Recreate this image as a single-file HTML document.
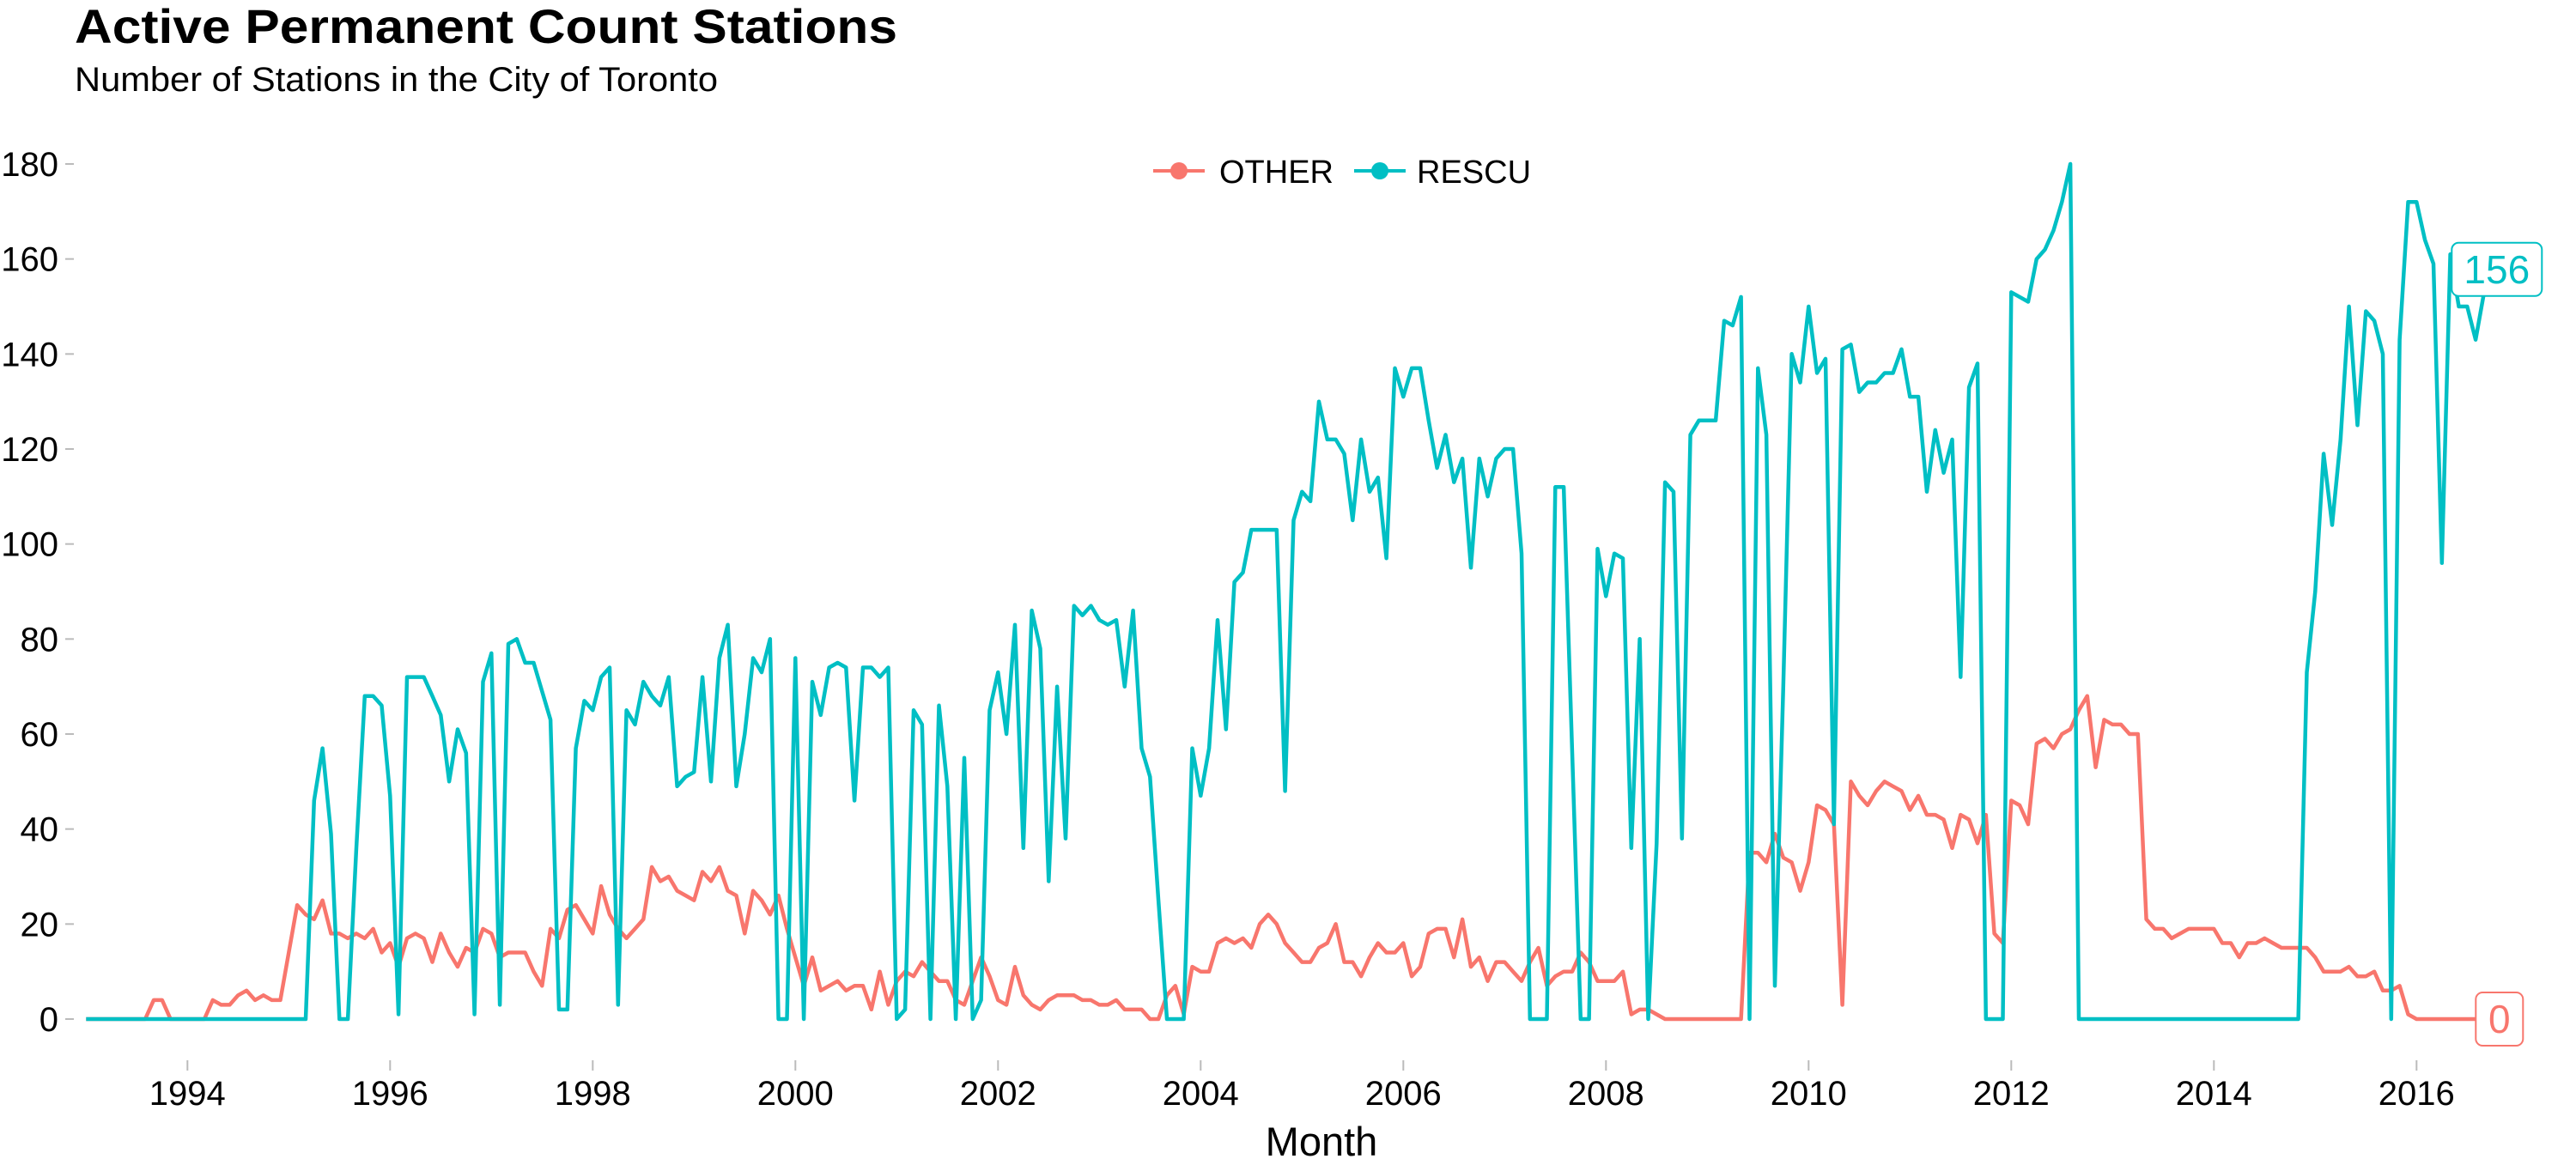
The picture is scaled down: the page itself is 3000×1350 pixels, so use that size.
<!DOCTYPE html>
<html><head><meta charset="utf-8">
<style>
html,body{margin:0;padding:0;background:#fff;}
svg{display:block;font-family:"Liberation Sans",Arial,sans-serif;}
</style></head>
<body>
<svg id="chart" width="3000" height="1350" viewBox="0 0 3000 1350" xmlns="http://www.w3.org/2000/svg">
  <text x="87" y="50" font-size="56" font-weight="bold" fill="#000" textLength="958" lengthAdjust="spacingAndGlyphs">Active Permanent Count Stations</text>
  <text x="87" y="106" font-size="40" fill="#000" textLength="749" lengthAdjust="spacingAndGlyphs">Number of Stations in the City of Toronto</text>
  <g id="legend">
    <g>
      <line x1="1343" y1="199" x2="1403" y2="199" stroke="#F8766D" stroke-width="4"/>
      <circle cx="1373" cy="199" r="10" fill="#F8766D"/>
      <text x="1420" y="213" font-size="38" fill="#000">OTHER</text>
    </g>
    <g>
      <line x1="1577" y1="199" x2="1637" y2="199" stroke="#00BFC4" stroke-width="4"/>
      <circle cx="1607" cy="199" r="10" fill="#00BFC4"/>
      <text x="1650" y="213" font-size="38" fill="#000">RESCU</text>
    </g>
  </g>
  <g id="yaxis"></g>
  <g id="xaxis"></g>
  <g id="series"></g>
  <g id="labels"></g>
  <text x="1539" y="1346" font-size="47" text-anchor="middle" fill="#000">Month</text>
</svg>
<script>
const startYear = 1993;
const yTicks = [0,20,40,60,80,100,120,140,160,180];
const xTickYears = [1994,1996,1998,2000,2002,2004,2006,2008,2010,2012,2014,2016];
const rescuValues = [
0,0,0,0,0,0,0,0,0,0,0,0,0,0,0,0,0,0,0,0,0,0,0,0,0,0,0,
46,57,39,0,0,36,68,68,66,47,1,72,72,72,68,64,50,61,56,1,71,77,
3,79,80,75,75,69,63,2,2,57,67,65,72,74,3,65,62,71,68,66,72,49,51,52,72,50,76,83,49,60,76,73,80,0,0,76,0,71,64,74,75,74,46,74,74,72,74,0,2,
65,62,0,66,49,0,55,0,4,65,73,60,83,36,86,78,29,70,38,87,85,87,84,83,84,70,86,57,51,25,0,0,0,57,47,57,84,61,92,94,103,103,103,103,48,105,111,109,130,
122,122,119,105,122,111,114,97,137,131,137,137,126,116,123,113,118,95,118,110,118,120,120,98,0,0,0,112,112,56,0,0,99,89,98,97,36,80,0,37,113,111,38,123,126,126,126,147,146,152,
0,137,123,7,70,140,134,150,136,139,41,141,142,132,134,134,136,136,141,131,131,111,124,115,122,72,133,138,0,0,0,153,152,151,160,162,166,172,180,0,
0,0,0,0,0,0,0,0,0,0,0,0,0,0,0,0,0,0,0,0,0,0,0,0,0,
0,73,90,119,104,122,150,125,149,147,140,0,143,172,172,164,159,96,161,150,150,143,153,156];
const otherValues = [
0,0,0,0,0,0,0,0,4,4,0,0,0,0,0,4,3,3,5,6,4,5,4,4,14,24,22,21,25,18,18,17,18,17,19,14,16,11,17,18,17,12,18,14,11,15,14,
19,18,13,14,14,14,10,7,19,17,23,24,21,18,28,22,19,17,19,21,32,29,30,27,26,25,31,29,32,27,26,18,27,25,22,26,19,13,7,13,6,7,8,6,7,7,2,10,3,8,10,
9,12,10,8,8,4,3,8,13,9,4,3,11,5,3,2,4,5,5,5,4,4,3,3,4,2,2,2,0,0,5,7,1,11,10,10,16,17,16,17,15,20,22,20,16,14,12,12,15,
16,20,12,12,9,13,16,14,14,16,9,11,18,19,19,13,21,11,13,8,12,12,10,8,12,15,7,9,10,10,14,12,8,8,8,10,1,2,2,1,0,0,0,0,0,0,0,0,0,0,
35,35,33,39,34,33,27,33,45,44,41,3,50,47,45,48,50,49,48,44,47,43,43,42,36,43,42,37,43,18,16,46,45,41,58,59,57,60,61,65,68,53,63,62,62,60,60,21,
19,19,17,18,19,19,19,19,16,16,13,16,16,17,16,15,15,15,15,13,10,10,10,11,9,9,10,6,6,7,1,0,0,0,0,0,0,0,0,0,0];

const NS = "http://www.w3.org/2000/svg";
function xScale(year){ return 218.3 + 118*(year-1994); }
function xMonth(i){ return xScale(startYear + i/12); }
function yScale(v){ return 1187 - v*(996/180); }
function mk(tag, attrs, parent){
  const e = document.createElementNS(NS, tag);
  for (const k in attrs) e.setAttribute(k, attrs[k]);
  parent.appendChild(e); return e;
}
const yaxis = document.getElementById('yaxis');
yTicks.forEach(v=>{
  const t = mk('line',{x1:76,x2:86,y1:yScale(v),y2:yScale(v),stroke:'#bbb','stroke-width':2},yaxis);
  
  
  const l = mk('text',{x:68,y:yScale(v)+14,'font-size':40,'text-anchor':'end',fill:'#000'},yaxis);
  
  
  l.textContent = v;
});
const xaxis = document.getElementById('xaxis');
xTickYears.forEach(y=>{
  const t = mk('line',{x1:xScale(y),x2:xScale(y),y1:1235,y2:1247,stroke:'#bbb','stroke-width':2},xaxis);
  
  
  const l = mk('text',{x:xScale(y),y:1287,'font-size':40,'text-anchor':'middle',fill:'#000'},xaxis);
  
  
  l.textContent = y;
});
const series = document.getElementById('series');
function drawLine(vals,color,name){
  const d = vals.map((v,i)=>(i?'L':'M')+xMonth(i).toFixed(1)+' '+yScale(v).toFixed(1)).join(' ');
  const p = mk('path',{d:d,fill:'none',stroke:color,'stroke-width':4.5,'stroke-linejoin':'round'},series);
  
  
}
drawLine(otherValues,'#F8766D','line-other');
drawLine(rescuValues,'#00BFC4','line-rescu');

const labels = document.getElementById('labels');
function endLabel(vals,color,name,dx,dy){
  const n = vals.length-1, v = vals[n];
  const cx = xMonth(n)+dx, cy = yScale(v)+dy;
  const txt = String(v);
  const w = 30 + txt.length*25;
  const r = mk('rect',{x:cx-w/2,y:cy-31,width:w,height:62,rx:8,fill:'#fff',stroke:color,'stroke-width':2},labels);
  
  
  const t = mk('text',{x:cx,y:cy+16,'font-size':46,'text-anchor':'middle',fill:color},labels);
  
  
  t.textContent = txt;
}
endLabel(rescuValues,'#00BFC4','end-label-rescu',5,-10);
endLabel(otherValues,'#F8766D','end-label-other',8,0);
</script>
</body></html>
